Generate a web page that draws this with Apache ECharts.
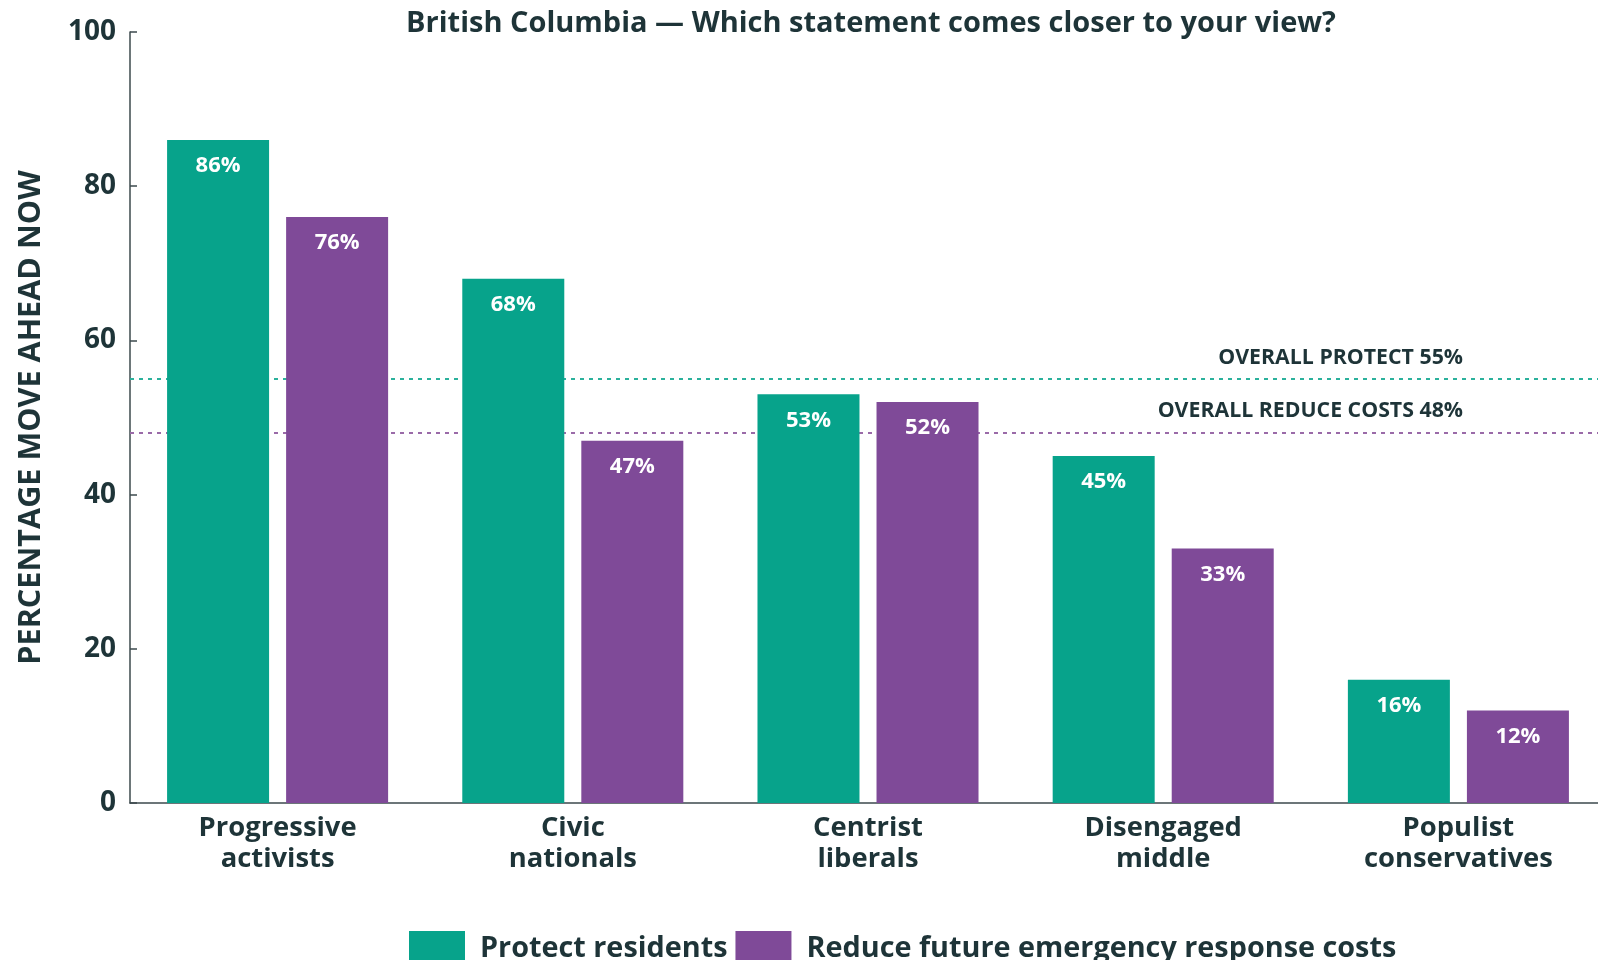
<!DOCTYPE html>
<html>
<head>
<meta charset="utf-8">
<title>British Columbia — Which statement comes closer to your view?</title>
<script src="https://cdn.jsdelivr.net/npm/echarts@6/dist/echarts.min.js"></script>
<style>
  html, body { margin: 0; padding: 0; background: #ffffff; }
  #chart { width: 1598px; height: 960px; }
</style>
</head>
<body>
<div id="chart"></div>
<script>
// Segments and their shares choosing each statement (percent)
const categories = [
  'Progressive\nactivists',
  'Civic\nnationals',
  'Centrist\nliberals',
  'Disengaged\nmiddle',
  'Populist\nconservatives'
];
const protectResidents = [86, 68, 53, 45, 16];
const reduceCosts = [76, 47, 52, 33, 12];
const overallProtect = 55;
const overallReduce = 48;
const yTicks = [0, 20, 40, 60, 80, 100];
const seriesNames = ['Protect residents', 'Reduce future emergency response costs'];

const TEAL = '#07a38b';
const PURPLE = '#7f4a98';
const INK = '#1e3438';
const FONT = 'Open Sans';

const chart = echarts.init(document.getElementById('chart'), null, { renderer: 'canvas' });

const barLabel = {
  show: true,
  position: 'insideTop',
  distance: 15,
  color: '#ffffff',
  fontFamily: FONT,
  fontWeight: 'bold',
  fontSize: 22,
  formatter: p => p.value + '%'
};

// Dashed overall reference line drawn behind the bars
function refLine(value, text, color) {
  return {
    silent: true,
    symbol: 'none',
    z: 1,
    lineStyle: { color: color, type: [4, 5], width: 2 },
    label: {
      show: true,
      position: 'insideEndTop',
      distance: [143, 11],
      color: INK,
      fontFamily: FONT,
      fontWeight: 'bold',
      fontSize: 21.3,
      formatter: text + ' ' + value + '%'
    },
    emphasis: { disabled: true },
    data: [{ yAxis: value }]
  };
}

chart.setOption({
  animation: false,
  textStyle: { fontFamily: FONT },
  title: {
    text: 'British Columbia — Which statement comes closer to your view?',
    left: 866,
    textAlign: 'center',
    top: 4,
    textStyle: { color: INK, fontFamily: FONT, fontWeight: 'bold', fontSize: 29 }
  },
  legend: {
    data: seriesNames,
    left: 404,
    top: 926,
    icon: 'rect',
    itemWidth: 56,
    itemHeight: 36,
    itemGap: 8,
    selectedMode: false,
    textStyle: { color: INK, fontFamily: FONT, fontWeight: 'bold', fontSize: 28.8, padding: [0, 0, 0, 10] }
  },
  grid: { left: 130, right: -8, top: 32, bottom: 157, containLabel: false, outerBoundsMode: 'none' },
  xAxis: {
    type: 'category',
    data: categories,
    axisLine: { show: true, lineStyle: { color: '#3c4a4d', width: 1.5 } },
    axisTick: { show: false },
    axisLabel: {
      color: INK, fontFamily: FONT, fontWeight: 'bold', fontSize: 27.4,
      lineHeight: 31, margin: 10, interval: 0
    }
  },
  yAxis: {
    type: 'value',
    min: yTicks[0],
    max: yTicks[yTicks.length - 1],
    interval: yTicks[1] - yTicks[0],
    name: 'PERCENTAGE MOVE AHEAD NOW',
    nameLocation: 'middle',
    nameGap: 83,
    nameTextStyle: { color: INK, fontFamily: FONT, fontWeight: 'bold', fontSize: 30.6 },
    axisLine: { show: true, lineStyle: { color: '#3c4a4d', width: 1.5 } },
    axisTick: { show: true, inside: true, length: 7, lineStyle: { color: '#3c4a4d', width: 1.5 } },
    splitLine: { show: false },
    axisLabel: { color: INK, fontFamily: FONT, fontWeight: 'bold', fontSize: 28, margin: 14 }
  },
  series: [
    {
      name: seriesNames[0],
      type: 'bar',
      data: protectResidents,
      barWidth: 102,
      barGap: '16.7%',
      z: 2,
      itemStyle: { color: TEAL },
      label: barLabel,
      markLine: refLine(overallProtect, 'OVERALL PROTECT', '#2bb19c')
    },
    {
      name: seriesNames[1],
      type: 'bar',
      data: reduceCosts,
      barWidth: 102,
      barGap: '16.7%',
      z: 2,
      itemStyle: { color: PURPLE },
      label: barLabel,
      markLine: refLine(overallReduce, 'OVERALL REDUCE COSTS', '#9a6aa8')
    }
  ]
});
</script>
</body>
</html>
